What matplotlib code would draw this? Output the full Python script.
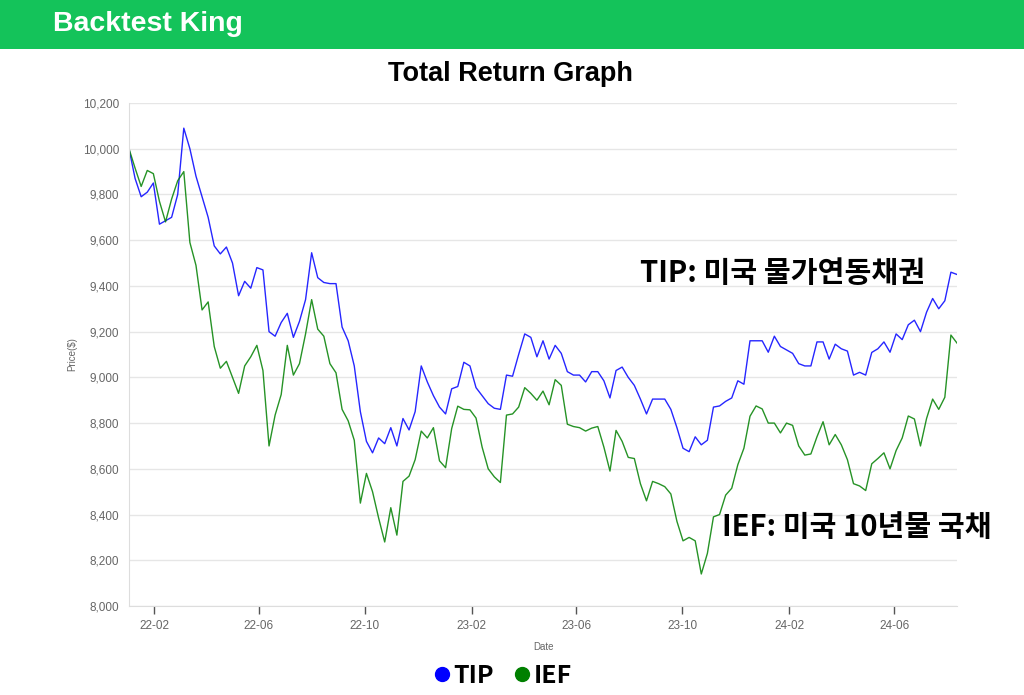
import matplotlib
matplotlib.use("Agg")
import matplotlib.pyplot as plt
import matplotlib.dates as mdates
from matplotlib.lines import Line2D
from matplotlib.patches import Rectangle
from matplotlib.ticker import FuncFormatter, MultipleLocator
import pandas as pd

# weekly closes
dates = pd.date_range("2022-01-03", periods=137, freq="7D")

tip = [
    10000, 9870, 9790, 9810, 9850, 9670, 9685, 9700, 9800, 10090,
    10000, 9880, 9790, 9700, 9575, 9540, 9570, 9500, 9357, 9420,
    9390, 9480, 9470, 9200, 9180, 9240, 9280, 9175, 9245, 9340,
    9545, 9436, 9415, 9410, 9410, 9220, 9160, 9050, 8850, 8720,
    8670, 8735, 8710, 8780, 8700, 8820, 8770, 8850, 9050, 8980,
    8920, 8870, 8840, 8950, 8960, 9066, 9050, 8955, 8920, 8885,
    8865, 8860, 9010, 9005, 9100, 9190, 9175, 9090, 9160, 9080,
    9140, 9105, 9025, 9010, 9010, 8980, 9025, 9025, 8985, 8910,
    9030, 9045, 9000, 8965, 8905, 8840, 8905, 8905, 8905, 8860,
    8780, 8690, 8675, 8740, 8705, 8725, 8870, 8875, 8895, 8910,
    8985, 8970, 9160, 9160, 9160, 9110, 9180, 9135, 9120, 9105,
    9060, 9050, 9050, 9155, 9155, 9080, 9145, 9125, 9115, 9010,
    9022, 9010, 9109, 9125, 9155, 9110, 9190, 9165, 9230, 9250,
    9200, 9285, 9345, 9300, 9335, 9460, 9450,
]

ief = [
    10000, 9915, 9835, 9905, 9891, 9770, 9680, 9780, 9860, 9900,
    9590, 9490, 9295, 9330, 9135, 9040, 9070, 9000, 8930, 9050,
    9090, 9140, 9030, 8700, 8835, 8925, 9140, 9010, 9060, 9190,
    9340, 9211, 9180, 9060, 9020, 8860, 8810, 8725, 8450, 8580,
    8500, 8385, 8280, 8430, 8310, 8545, 8568, 8640, 8765, 8735,
    8780, 8635, 8605, 8776, 8874, 8860, 8858, 8822, 8695, 8600,
    8565, 8540, 8835, 8840, 8870, 8955, 8930, 8900, 8940, 8880,
    8990, 8965, 8795, 8785, 8780, 8765, 8778, 8785, 8695, 8590,
    8768, 8720, 8650, 8645, 8535, 8460, 8545, 8535, 8522, 8490,
    8370, 8285, 8300, 8285, 8140, 8230, 8390, 8400, 8485, 8515,
    8618, 8690, 8830, 8875, 8862, 8800, 8800, 8757, 8800, 8790,
    8700, 8660, 8665, 8740, 8806, 8705, 8750, 8705, 8640, 8535,
    8525, 8505, 8622, 8645, 8670, 8600, 8680, 8735, 8831, 8818,
    8700, 8820, 8905, 8860, 8913, 9185, 9150,
]

series = [("TIP", tip, "#0000ff"), ("IEF", ief, "#008000")]
tip_note = "TIP: 미국 물가연동채권"
ief_note = "IEF: 미국 10년물 국채"

plt.rcParams["font.family"] = ["Liberation Sans", "DejaVu Sans"]
kor = ["Noto Sans CJK KR", "DejaVu Sans"]

fig = plt.figure(figsize=(10.24, 6.95), dpi=100)

# green header bar
fig.patches.append(Rectangle((0, 1 - 49 / 695), 1, 49 / 695, transform=fig.transFigure,
                             facecolor="#14c35a", edgecolor="none", zorder=0))
fig.text(0.052, 1 - 24 / 695, "Backtest King", color="white", fontsize=20.5,
         fontweight="bold", va="center", ha="left")
fig.text(0.498, 1 - 74 / 695, "Total Return Graph", fontsize=19.5, fontweight="bold",
         ha="center", va="center", color="black")

ax = fig.add_axes([129 / 1024, 1 - 606 / 695, (957 - 129) / 1024, (606 - 103) / 695])

for name, vals, col in series:
    ax.plot(dates, vals, color=col, linewidth=1.0, alpha=0.85)

ax.set_ylim(8000, 10200)
ax.set_xlim(dates[0], dates[-1])
ax.yaxis.set_major_locator(MultipleLocator(200))
ax.yaxis.set_major_formatter(FuncFormatter(lambda v, p: f"{v:,.0f}"))
ax.xaxis.set_major_locator(mdates.MonthLocator(bymonth=[2, 6, 10]))
ax.xaxis.set_major_formatter(mdates.DateFormatter("%y-%m"))

ax.grid(axis="y", color="#e6e6e6", linewidth=1)
ax.set_axisbelow(True)
for s in ["top", "right"]:
    ax.spines[s].set_visible(False)
for s in ["left", "bottom"]:
    ax.spines[s].set_color("#dddddd")
ax.tick_params(axis="y", length=0, pad=7, labelsize=8.5, labelcolor="#666666")
ax.tick_params(axis="x", length=6, width=1, color="#555555", pad=4,
               labelsize=8.5, labelcolor="#666666")

ax.set_ylabel("Price($)", fontsize=7, color="#666666", labelpad=4)
ax.set_xlabel("Date", fontsize=7, color="#666666", labelpad=7)

fig.text(640 / 1024, 1 - 273 / 695, tip_note, family=kor, fontsize=21,
         fontweight="bold", va="center", ha="left", color="black")
fig.text(722 / 1024, 1 - 527 / 695, ief_note, family=kor, fontsize=21,
         fontweight="bold", va="center", ha="left", color="black")

handles = [Line2D([], [], linestyle="none", marker="o", markersize=10,
                  markerfacecolor=c, markeredgecolor=c, label=n) for n, _, c in series]
leg = fig.legend(handles=handles, loc="center", bbox_to_anchor=(0.492, 1 - 676 / 695),
                 ncol=2, frameon=False, handlelength=0.5, handletextpad=0.2,
                 columnspacing=0.9, prop={"family": kor, "size": 18, "weight": "bold"})

fig.savefig("out.png", dpi=100)
